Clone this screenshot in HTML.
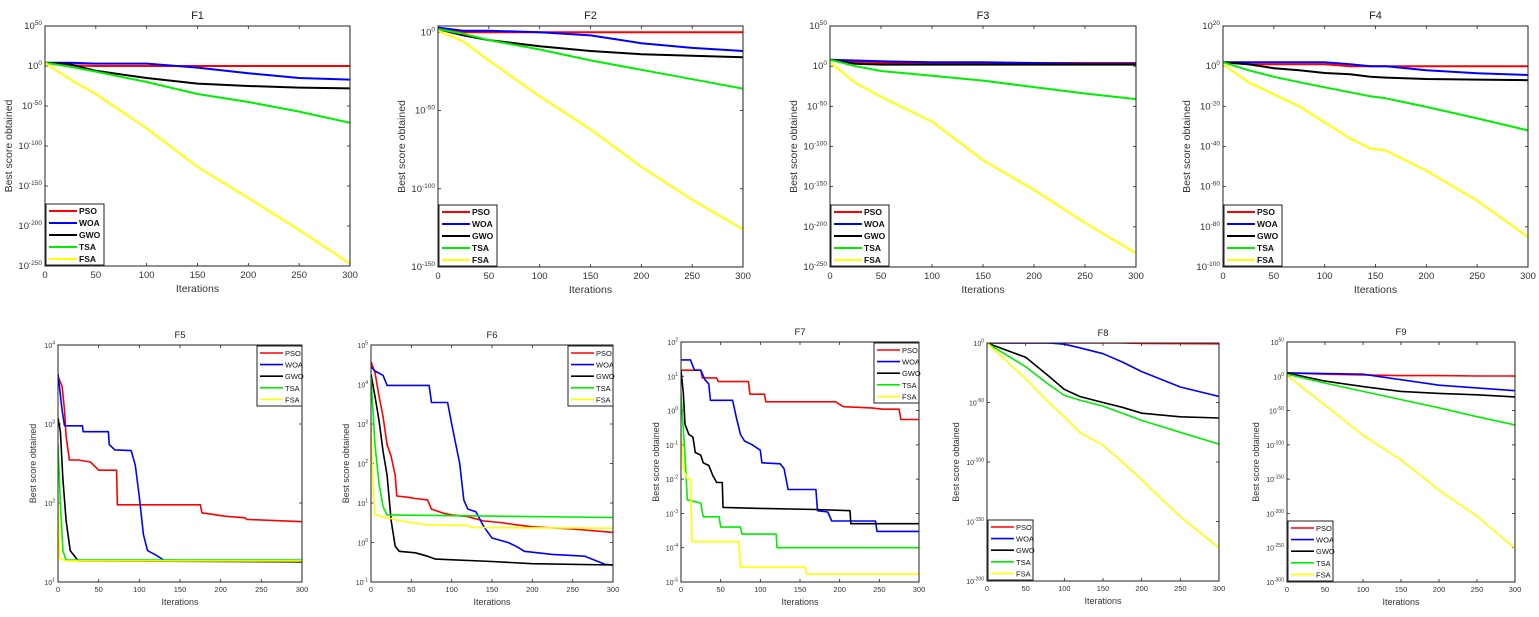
<!DOCTYPE html>
<html><head><meta charset="utf-8"><style>
html,body{margin:0;padding:0;background:#fff;}
svg{display:block;font-family:"Liberation Sans",Arial,sans-serif;}
</style></head><body>
<svg id="fig" width="1539" height="617" viewBox="0 0 1539 617" xmlns="http://www.w3.org/2000/svg"></svg>
<script>
// ---- data (iterations / best score values) ----
const seriesNames = ["PSO","WOA","GWO","TSA","FSA"];
const xTicks = [0,50,100,150,200,250,300];

const f1_it  = [0,25,50,100,150,200,250,300];
const f1_pso = [1e4,1e1,1e0,1e0,1e0,1e0,1e0,1e0];
const f1_woa = [1e4,1e4,1e3,1e3,1e-2,1e-9,1e-15,1e-17];
const f1_gwo = [1e4,1e2,1e-6,1e-15,1e-22,1e-25,1e-27,1e-28];
const f1_tsa = [1e4,1e-1,1e-7,1e-20,1e-35,1e-45,1e-57,1e-71];
const f1_fsa = [1e4,1e-17,1e-35,1e-78,1e-126,1e-165,1e-205,1e-247];
const f1_yt  = [50,0,-50,-100,-150,-200,-250];

const f2_it  = [0,25,50,100,150,200,250,300];
const f2_pso = [1e2,1e0,1e0,1e0,1e0,1e0,1e0,1e0];
const f2_woa = [1e3,1e1,1e1,1e0,1e-2,1e-7,1e-10,1e-12];
const f2_gwo = [1e2,1e-2,1e-5,1e-9,1e-12,1e-14,1e-15,1e-16];
const f2_tsa = [1e2,1e-1,1e-5,1e-11,1e-18,1e-24,1e-30,1e-36];
const f2_fsa = [1e1,1e-6,1e-18,1e-41,1e-62,1e-86,1e-107,1e-126];
const f2_yt  = [0,-50,-100,-150];

const f3_it  = [0,25,50,100,150,200,250,300];
const f3_pso = [1e8,1e5,1e4,1e4,1e4,1e4,1e4,1e4];
const f3_woa = [1e8,1e7,1e6,1e5,1e5,1e4,1e3,1e3];
const f3_gwo = [1e8,1e3,1e2,1e2,1e2,1e2,1e2,1e2];
const f3_tsa = [1e8,1e0,1e-6,1e-12,1e-18,1e-26,1e-34,1e-41];
const f3_fsa = [1e5,1e-21,1e-38,1e-69,1e-117,1e-154,1e-195,1e-233];
const f3_yt  = [50,0,-50,-100,-150,-200,-250];

const f4_it  = [0,25,50,75,100,125,145,160,200,250,300];
const f4_pso = [1e2,1e1,1e1,1e1,1e1,1e0,1e0,1e0,1e0,1e0,1e0];
const f4_woa = [1e2,1e2,1e2,1e2,1e2,1e1,1e0,1e0,1e-2,3e-4,4e-5];
const f4_gwo = [1e2,1e1,1e-1,1e-2,4e-4,1e-4,5e-6,2e-6,4e-7,2e-7,1e-7];
const f4_tsa = [1e2,1e-2,5e-6,1e-8,3e-11,1e-13,1e-15,1e-16,5e-21,1e-26,1e-32];
const f4_fsa = [1e1,1e-8,1e-14,1e-20,1e-28,1e-36,1e-41,1e-42,1e-52,1e-67,1e-85];
const f4_yt  = [20,0,-20,-40,-60,-80,-100];

const f5_pso_it = [0,5,8,10,14,25,40,50,72,73,175,177,190,205,230,232,300];
const f5_pso    = [4000,3000,1500,700,350,350,330,260,260,95,95,75,72,68,65,62,58];
const f5_woa_it = [0,5,8,30,31,62,63,70,90,95,100,105,110,120,130,300];
const f5_woa    = [4300,1500,950,950,800,800,550,470,460,300,120,40,25,22,19,18];
const f5_gwo_it = [0,3,6,10,15,25,300];
const f5_gwo    = [1200,800,200,60,25,18.5,18];
const f5_tsa_it = [0,3,6,10,300];
const f5_tsa    = [550,100,25,19,19];
const f5_fsa_it = [0,2,10,300];
const f5_fsa    = [120,20,18.5,18.5];
const f5_yt     = [4,3,2,1];

const f6_pso_it = [0,5,10,15,20,25,30,32,45,55,70,75,90,100,120,140,160,180,200,250,300];
const f6_pso    = [38000,20000,5000,1500,300,150,50,15,14,13,12,7,5.5,5,4.5,3.5,3.2,2.8,2.5,2.2,1.8];
const f6_woa_it = [0,5,15,20,72,75,95,100,110,115,120,130,140,150,170,180,190,225,265,290,300];
const f6_woa    = [28000,22000,17000,9500,9500,3500,3500,1000,100,12,7,6,2.5,1.3,1.0,0.8,0.6,0.5,0.45,0.28,0.27];
const f6_gwo_it = [0,5,10,15,20,25,30,35,55,70,80,150,200,300];
const f6_gwo    = [18000,5000,1200,200,50,3.5,0.8,0.6,0.55,0.45,0.38,0.33,0.29,0.27];
const f6_tsa_it = [0,5,10,15,20,300];
const f6_tsa    = [15000,300,30,8,5,4.3];
const f6_fsa_it = [0,3,5,30,50,70,120,125,300];
const f6_fsa    = [1000,20,5,3.8,3.2,2.8,2.7,2.4,2.3];
const f6_yt     = [5,4,3,2,1,0,-1];

const f7_pso_it = [0,25,27,45,47,85,87,105,107,195,200,205,240,255,275,277,300];
const f7_pso    = [15,15,9,9,7,7,3,3,1.8,1.8,1.5,1.3,1.2,1.1,1.1,0.55,0.55];
const f7_woa_it = [0,12,17,25,30,35,37,65,70,75,80,90,100,102,125,130,135,170,172,185,190,245,247,300];
const f7_woa    = [30,30,15,15,8,6,2,2,0.6,0.2,0.13,0.1,0.07,0.03,0.028,0.02,0.005,0.005,0.0012,0.0011,0.0006,0.0006,0.0003,0.0003];
const f7_gwo_it = [0,3,5,10,15,18,25,28,35,40,45,52,53,100,170,213,214,300];
const f7_gwo    = [15,3,0.4,0.2,0.17,0.06,0.05,0.03,0.025,0.013,0.008,0.008,0.0015,0.0014,0.0013,0.0012,0.0005,0.0005];
const f7_tsa_it = [0,5,8,25,28,48,50,75,77,120,121,300];
const f7_tsa    = [3,0.05,0.0025,0.002,0.0008,0.0008,0.0004,0.0004,0.00025,0.00025,0.0001,0.0001];
const f7_fsa_it = [0,3,8,12,14,73,75,157,158,300];
const f7_fsa    = [0.2,0.02,0.01,0.01,0.00015,0.00015,0.000027,0.000027,0.000017,0.000017];
const f7_yt     = [2,1,0,-1,-2,-3,-4,-5];

const f8_it  = [0,50,80,100,120,150,175,200,250,300];
const f8_pso = [1,1,1,1,1,1,1,0.5,0.3,0.2];
const f8_woa = [1,1,1,0.1,1e-4,1e-9,1e-16,1e-24,1e-37,1e-45];
const f8_gwo = [1,1e-12,1e-28,1e-39,1e-45,1e-50,1e-54,1e-59,1e-62,1e-63];
const f8_tsa = [1,1e-20,1e-35,1e-44,1e-48,1e-53,1e-59,1e-65,1e-75,1e-85];
const f8_fsa = [1,1e-30,1e-50,1e-62,1e-75,1e-86,1e-100,1e-115,1e-146,1e-172];
const f8_yt  = [0,-50,-100,-150,-200];

const f9_it  = [0,50,100,150,200,250,300];
const f9_pso = [1e5,1e3,1e2,1e1,1e1,3,3];
const f9_woa = [1e5,1e4,1e3,1e-5,1e-13,1e-17,1e-21];
const f9_gwo = [1e5,1e-7,1e-15,1e-22,1e-25,1e-27,1e-30];
const f9_tsa = [1e3,1e-10,1e-22,1e-34,1e-46,1e-59,1e-71];
const f9_fsa = [1e1,1e-42,1e-86,1e-122,1e-166,1e-204,1e-251];
const f9_yt  = [50,0,-50,-100,-150,-200,-250,-300];

// ---- rendering ----
const colors = ["#ff0000","#0000ff","#000000","#00ee00","#ffff00"];
const NS = "http://www.w3.org/2000/svg";
const fig = document.getElementById("fig");
function mk(tag, attrs, parent){ const e=document.createElementNS(NS,tag); for(const k in attrs) e.setAttribute(k,attrs[k]); (parent||fig).appendChild(e); return e; }

const panels = [
 {id:"f1",title:"F1",L:45,R:350,T:26,B:266,ymin:-250,ymax:50,yt:f1_yt,its:[f1_it,f1_it,f1_it,f1_it,f1_it],vals:[f1_pso,f1_woa,f1_gwo,f1_tsa,f1_fsa],big:true,leg:"bl",yo:33},
 {id:"f2",title:"F2",L:438,R:743,T:26,B:267,ymin:-150,ymax:4,yt:f2_yt,its:[f2_it,f2_it,f2_it,f2_it,f2_it],vals:[f2_pso,f2_woa,f2_gwo,f2_tsa,f2_fsa],big:true,leg:"bl",yo:33},
 {id:"f3",title:"F3",L:830,R:1136,T:26,B:267,ymin:-250,ymax:50,yt:f3_yt,its:[f3_it,f3_it,f3_it,f3_it,f3_it],vals:[f3_pso,f3_woa,f3_gwo,f3_tsa,f3_fsa],big:true,leg:"bl",yo:33},
 {id:"f4",title:"F4",L:1223,R:1528,T:26,B:267,ymin:-100,ymax:20,yt:f4_yt,its:[f4_it,f4_it,f4_it,f4_it,f4_it],vals:[f4_pso,f4_woa,f4_gwo,f4_tsa,f4_fsa],big:true,leg:"bl",yo:33},
 {id:"f5",title:"F5",L:58,R:302,T:345,B:582,ymin:1,ymax:4,yt:f5_yt,its:[f5_pso_it,f5_woa_it,f5_gwo_it,f5_tsa_it,f5_fsa_it],vals:[f5_pso,f5_woa,f5_gwo,f5_tsa,f5_fsa],big:false,leg:"tr",yo:22},
 {id:"f6",title:"F6",L:371,R:613,T:345,B:582,ymin:-1,ymax:5,yt:f6_yt,its:[f6_pso_it,f6_woa_it,f6_gwo_it,f6_tsa_it,f6_fsa_it],vals:[f6_pso,f6_woa,f6_gwo,f6_tsa,f6_fsa],big:false,leg:"tr",yo:22},
 {id:"f7",title:"F7",L:681,R:919,T:342,B:582,ymin:-5,ymax:2,yt:f7_yt,its:[f7_pso_it,f7_woa_it,f7_gwo_it,f7_tsa_it,f7_fsa_it],vals:[f7_pso,f7_woa,f7_gwo,f7_tsa,f7_fsa],big:false,leg:"tr",yo:22},
 {id:"f8",title:"F8",L:987,R:1219,T:343,B:581,ymin:-200,ymax:0,yt:f8_yt,its:[f8_it,f8_it,f8_it,f8_it,f8_it],vals:[f8_pso,f8_woa,f8_gwo,f8_tsa,f8_fsa],big:false,leg:"bl",yo:28},
 {id:"f9",title:"F9",L:1287,R:1515,T:342,B:582,ymin:-300,ymax:50,yt:f9_yt,its:[f9_it,f9_it,f9_it,f9_it,f9_it],vals:[f9_pso,f9_woa,f9_gwo,f9_tsa,f9_fsa],big:false,leg:"bl",yo:28}
];

panels.forEach(p=>{
  const g = mk("g",{});
  
  
  const xs = v => p.L + (v/300)*(p.R-p.L);
  const ys = v => p.B - (Math.log10(v)-p.ymin)/(p.ymax-p.ymin)*(p.B-p.T);
  const ye = e => p.B - (e-p.ymin)/(p.ymax-p.ymin)*(p.B-p.T);
  const fs = p.big?9.5:7, sup = p.big?6.5:5;
  const cp = mk("clipPath",{id:"clip-"+p.id},g);
  mk("rect",{x:p.L,y:p.T,width:p.R-p.L,height:p.B-p.T},cp);
  const t = mk("text",{x:(p.L+p.R)/2,y:p.T-7,"text-anchor":"middle","font-size":p.big?11:9.5,fill:"#222"},g);
  t.textContent=p.title;
  
  
  xTicks.forEach(v=>{
    const x=xs(v);
    mk("line",{x1:x,y1:p.B,x2:x,y2:p.B-3,stroke:"#222","stroke-width":0.8},g);
    mk("line",{x1:x,y1:p.T,x2:x,y2:p.T+3,stroke:"#222","stroke-width":0.8},g);
    const tl = mk("text",{x:x,y:p.B+(p.big?12:10),"text-anchor":"middle","font-size":p.big?9.5:7.5,fill:"#333"},g);
    tl.textContent=v;
    
    
  });
  p.yt.forEach(e=>{
    const y=ye(e);
    mk("line",{x1:p.L,y1:y,x2:p.L+3,y2:y,stroke:"#222","stroke-width":0.8},g);
    mk("line",{x1:p.R,y1:y,x2:p.R-3,y2:y,stroke:"#222","stroke-width":0.8},g);
    const tl = mk("text",{x:p.L-3,y:y+3,"text-anchor":"end","font-size":fs,fill:"#333"},g);
    
    
    const a=document.createElementNS(NS,"tspan"); a.textContent="10"; tl.appendChild(a);
    const b=document.createElementNS(NS,"tspan"); b.setAttribute("dy",p.big?-4:-3.5); b.setAttribute("font-size",sup); b.textContent=String(e); tl.appendChild(b);
  });
  p.vals.forEach((vals,i)=>{
    const its=p.its[i];
    const pts = vals.map((v,k)=>xs(its[k]).toFixed(1)+","+ys(v).toFixed(1)).join(" ");
    const pl = mk("polyline",{points:pts,fill:"none",stroke:colors[i],"stroke-width":p.big?2:1.6,"stroke-linejoin":"round","clip-path":"url(#clip-"+p.id+")"},g);
    
    
  });
  mk("rect",{x:p.L,y:p.T,width:p.R-p.L,height:p.B-p.T,fill:"none",stroke:"#222","stroke-width":1},g);
  const xl = mk("text",{x:(p.L+p.R)/2,y:p.B+(p.big?26:23),"text-anchor":"middle","font-size":p.big?10.5:9,fill:"#333"},g);
  xl.textContent="Iterations";
  
  
  const yx = p.L-p.yo, yc=(p.T+p.B)/2;
  const yl = mk("text",{x:yx,y:yc,"text-anchor":"middle","font-size":p.big?10.5:9,fill:"#333",transform:"rotate(-90 "+yx+" "+yc+")"},g);
  yl.textContent="Best score obtained";
  
  
  const lw = p.big?58:45, lh = p.big?61:60, rowH = p.big?12:11.6;
  const lx = p.leg==="tr" ? p.R-lw : p.L+1;
  const ly = p.leg==="tr" ? p.T+1 : p.B-lh-1;
  const lg = mk("g",{},g);
  
  
  mk("rect",{x:lx,y:ly,width:lw,height:lh,fill:"#fff",stroke:"#222","stroke-width":1},lg);
  seriesNames.forEach((n,i)=>{
    const yy = ly+7+i*rowH;
    const ent = mk("g",{},lg);
    
    
    mk("line",{x1:lx+3,y1:yy,x2:lx+(p.big?31:26),y2:yy,stroke:colors[i],"stroke-width":p.big?2:1.6},ent);
    const tx = mk("text",{x:lx+(p.big?33:28),y:yy+3,"font-size":p.big?8.5:7.5,fill:"#111","font-weight":p.big?"bold":"normal"},ent);
    tx.textContent=n;
  });
});
</script>
</body></html>
